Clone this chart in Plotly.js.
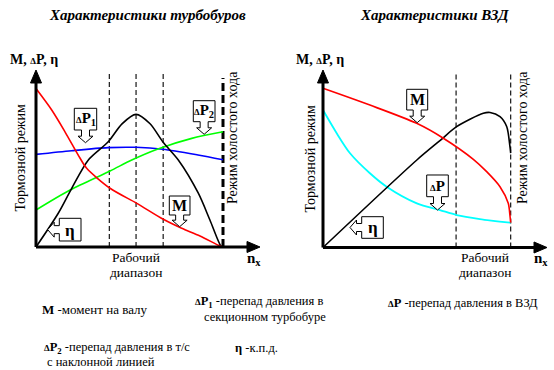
<!DOCTYPE html>
<html><head><meta charset="utf-8">
<script src="https://cdn.plot.ly/plotly-3.0.1.min.js"></script>
<style>body{margin:0;padding:0;background:#fff}#chart{width:554px;height:370px}</style>
</head><body><div id="chart"></div>
<script>
// ---- Left panel: turbodrill characteristics (x = relative speed n_x, 1 = idle run) ----
const turboM_x   = [0, 0.084, 0.155, 0.235, 0.271, 0.396, 0.539, 0.681, 0.779, 0.877, 0.984, 1];
const turboM_y   = [0.99, 0.856, 0.72, 0.556, 0.492, 0.367, 0.273, 0.173, 0.117, 0.069, 0.006, 0];
const turboEta_x = [0, 0.119, 0.191, 0.280, 0.385, 0.46, 0.535, 0.61, 0.679, 0.761, 0.868, 0.930, 0.989, 1];
const turboEta_y = [0, 0.211, 0.367, 0.544, 0.656, 0.77, 0.829, 0.77, 0.656, 0.544, 0.336, 0.169, 0.006, 0];
const turboP1_x  = [0, 0.191, 0.385, 0.535, 0.679, 0.866, 1];
const turboP1_y  = [0.579, 0.602, 0.621, 0.623, 0.611, 0.575, 0.545];
const turboP2_x  = [0, 0.182, 0.396, 0.512, 0.652, 0.833, 1];
const turboP2_y  = [0.231, 0.356, 0.475, 0.544, 0.613, 0.679, 0.72];
const turboWork  = [0.392, 0.535, 0.680];
const turboIdle  = 1;

// ---- Right panel: PDM (ВЗД) characteristics ----
const vzdM_x   = [0, 0.25, 0.499, 0.641, 0.801, 0.872, 0.943, 0.987, 0.996, 1];
const vzdM_y   = [0.995, 0.89, 0.776, 0.683, 0.551, 0.474, 0.38, 0.276, 0.2, 0.155];
const vzdP_x   = [0, 0.073, 0.144, 0.25, 0.339, 0.5, 0.623, 0.712, 0.836, 1];
const vzdP_y   = [0.859, 0.714, 0.589, 0.464, 0.38, 0.276, 0.234, 0.203, 0.178, 0.155];
const vzdEta_x = [0, 0.5, 0.623, 0.712, 0.854, 0.89, 0.943, 0.979, 0.996, 1];
const vzdEta_y = [0, 0.547, 0.668, 0.755, 0.839, 0.844, 0.818, 0.755, 0.63, 0.59];
const vzdWork  = [0.709, 1];

// ---- Texts ----
const titleLeft  = 'Характеристики турбобуров';
const titleRight = 'Характеристики ВЗД';
const D = '<span style="font-size:9px">Δ</span>';
const yLabel = '<b>M, ' + D + 'P, η</b>';
const brakeText = 'Тормозной режим';
const idleText = 'Режим холостого хода';
const nxText = '<b>n<sub>x</sub></b>';

const W = 554, H = 370;
const X = px => px / W, Y = py => 1 - py / H;
const pth = pts => 'M' + pts.map(p => X(p[0]).toFixed(5) + ',' + Y(p[1]).toFixed(5)).join('L') + 'Z';

// pixel frames of the two panels
const L = {ox: 36, oy: 247, ux: 187, uy: 160};
const R = {ox: 323, oy: 247.5, ux: 187.7, uy: 160};

const traces = [];
function tr(x, y, color, w, xa, ya) {
  traces.push({type: 'scatter', mode: 'lines', x: x, y: y, xaxis: xa, yaxis: ya,
    line: {color: color, width: w, shape: 'spline', smoothing: 0.8}, hoverinfo: 'skip', showlegend: false});
}
tr(turboP1_x, turboP1_y, '#0000ff', 1.6, 'x', 'y');
tr(turboP2_x, turboP2_y, '#00ff00', 1.6, 'x', 'y');
tr(turboEta_x, turboEta_y, '#000000', 1.6, 'x', 'y');
tr(turboM_x, turboM_y, '#ff0000', 1.6, 'x', 'y');
tr(vzdP_x, vzdP_y, '#00ffff', 1.8, 'x2', 'y2');
tr(vzdEta_x, vzdEta_y, '#000000', 1.6, 'x2', 'y2');
tr(vzdM_x, vzdM_y, '#ff0000', 1.6, 'x2', 'y2');

const shapes = [];
turboWork.forEach(v => shapes.push({type: 'line', xref: 'x', yref: 'y', x0: v, x1: v, y0: 0, y1: 1.081,
  line: {color: '#000', width: 1.1, dash: '5px,3px'}, layer: 'below'}));
shapes.push({type: 'line', xref: 'x', yref: 'y', x0: turboIdle, x1: turboIdle, y0: 0, y1: 1.056,
  line: {color: '#000', width: 3, dash: '8px,4px'}, layer: 'below'});
vzdWork.forEach(v => shapes.push({type: 'line', xref: 'x2', yref: 'y2', x0: v, x1: v, y0: 0, y1: 1.084,
  line: {color: '#000', width: 1.1, dash: '5px,3px'}, layer: 'below'}));

function axes(o, xEnd) {
  shapes.push({type: 'line', xref: 'paper', yref: 'paper', x0: X(o.ox), y0: Y(o.oy), x1: X(o.ox), y1: Y(82), line: {color: '#000', width: 3}});
  shapes.push({type: 'path', xref: 'paper', yref: 'paper', path: pth([[o.ox - 5.5, 83], [o.ox + 5.5, 83], [o.ox, 70]]), fillcolor: '#000', line: {color: '#000', width: 1}});
  shapes.push({type: 'line', xref: 'paper', yref: 'paper', x0: X(o.ox), y0: Y(o.oy), x1: X(xEnd - 12), y1: Y(o.oy), line: {color: '#000', width: 3}});
  shapes.push({type: 'path', xref: 'paper', yref: 'paper', path: pth([[xEnd - 13, o.oy - 5.5], [xEnd - 13, o.oy + 5.5], [xEnd, o.oy]]), fillcolor: '#000', line: {color: '#000', width: 1}});
}
axes(L, 260);
axes(R, 547);

function calloutDown(x0, x1, y0, y1, tipY) {
  const cx = (x0 + x1) / 2, sw = 8, hw = 15, se = tipY - 6.5;
  shapes.push({type: 'path', xref: 'paper', yref: 'paper', fillcolor: '#fff', line: {color: '#000', width: 1}, layer: 'above',
    path: pth([[x0, y0], [x1, y0], [x1, y1], [cx + sw / 2, y1], [cx + sw / 2, se], [cx + hw / 2, se], [cx, tipY],
      [cx - hw / 2, se], [cx - sw / 2, se], [cx - sw / 2, y1], [x0, y1]])});
}
function calloutLeft(x0, x1, y0, y1, tipX) {
  const cy = (y0 + y1) / 2, sw = 8, hw = 15, se = tipX + 6.5;
  shapes.push({type: 'path', xref: 'paper', yref: 'paper', fillcolor: '#fff', line: {color: '#000', width: 1}, layer: 'above',
    path: pth([[x0, y0], [x1, y0], [x1, y1], [x0, y1], [x0, cy + sw / 2], [se, cy + sw / 2], [se, cy + hw / 2], [tipX, cy],
      [se, cy - hw / 2], [se, cy - sw / 2], [x0, cy - sw / 2]])});
}
calloutDown(74.3, 96.7, 108.3, 130, 142.7);
calloutDown(193.3, 215, 100.7, 121.7, 134.3);
calloutDown(169.3, 190, 196, 215, 226.7);
calloutLeft(59.3, 81, 218.3, 241, 47.7);
calloutDown(406.7, 427.7, 89.3, 110, 122.7);
calloutDown(426.7, 448.3, 175, 196.7, 210);
calloutLeft(361.7, 383.3, 216.7, 238.3, 350);

const serif = 'Liberation Serif';
const ann = [];
function A(text, px, py, size, opts) {
  ann.push(Object.assign({xref: 'paper', yref: 'paper', x: X(px), y: Y(py), text: text, showarrow: false,
    xanchor: 'center', yanchor: 'middle', font: {family: serif, size: size, color: '#000'}}, opts || {}));
}
A('<b><i>' + titleLeft + '</i></b>', 147, 15, 15);
A('<b><i>' + titleRight + '</i></b>', 434, 15, 15);
A(yLabel, 8, 59, 14, {xanchor: 'left'});
A(yLabel, 294, 59, 14, {xanchor: 'left'});
A(brakeText, 19.5, 158, 14, {textangle: -90});
A(brakeText, 309.5, 158, 14, {textangle: -90});
A(idleText, 232, 138, 14, {textangle: -90});
A(idleText, 522, 138, 14, {textangle: -90});
A('Рабочий', 136, 257, 13.5);
A('диапазон', 136, 272, 13.5);
A('Рабочий', 485, 257, 13.5);
A('диапазон', 485, 272, 13.5);
A(nxText, 254, 259, 15);
A(nxText, 541, 259, 15);
// callout labels
A('<b>' + D + 'P<sub>1</sub></b>', 85.5, 119.5, 15);
A('<b>' + D + 'P<sub>2</sub></b>', 204.2, 111.5, 15);
A('<b>M</b>', 179.7, 205.5, 16);
A('<b>η</b>', 70.2, 230, 17);
A('<b>M</b>', 417.2, 99.5, 16);
A('<b>' + D + 'P</b>', 437.5, 186, 15);
A('<b>η</b>', 372.5, 227.5, 17);
// bottom explanations
A('<b>M</b> -момент на валу', 40, 309, 13, {xanchor: 'left'});
A('<b>' + D + 'P<sub>1</sub></b> -перепад давления в', 193, 302, 12.5, {xanchor: 'left'});
A('секционном турбобуре', 202, 317, 12.5, {xanchor: 'left'});
A('<b>' + D + 'P</b> -перепад давления в ВЗД', 386, 303, 12.5, {xanchor: 'left'});
A('<b>' + D + 'P<sub>2</sub></b> -перепад давления в т/с', 42, 348, 12.5, {xanchor: 'left'});
A('с наклонной линией', 45, 362, 12.5, {xanchor: 'left'});
A('<b>η</b> -к.п.д.', 233, 348, 12.5, {xanchor: 'left'});

const ax = (o, extra) => Object.assign({visible: false, showgrid: false, zeroline: false, fixedrange: true}, o, extra || {});
const layout = {
  width: W, height: H, margin: {l: 0, r: 0, t: 0, b: 0}, paper_bgcolor: '#fff', plot_bgcolor: 'rgba(0,0,0,0)',
  font: {family: serif, color: '#000'},
  showlegend: false, shapes: shapes, annotations: ann,
  xaxis: ax({domain: [X(30), X(265)], range: [(30 - L.ox) / L.ux, (265 - L.ox) / L.ux]}, {anchor: 'y'}),
  yaxis: ax({domain: [Y(252), Y(64)], range: [(L.oy - 252) / L.uy, (L.oy - 64) / L.uy]}, {anchor: 'x'}),
  xaxis2: ax({domain: [X(317), X(552)], range: [(317 - R.ox) / R.ux, (552 - R.ox) / R.ux]}, {anchor: 'y2'}),
  yaxis2: ax({domain: [Y(252), Y(64)], range: [(R.oy - 252) / R.uy, (R.oy - 64) / R.uy]}, {anchor: 'x2'})
};
Plotly.newPlot('chart', traces, layout, {displayModeBar: false, staticPlot: true});
</script></body></html>
